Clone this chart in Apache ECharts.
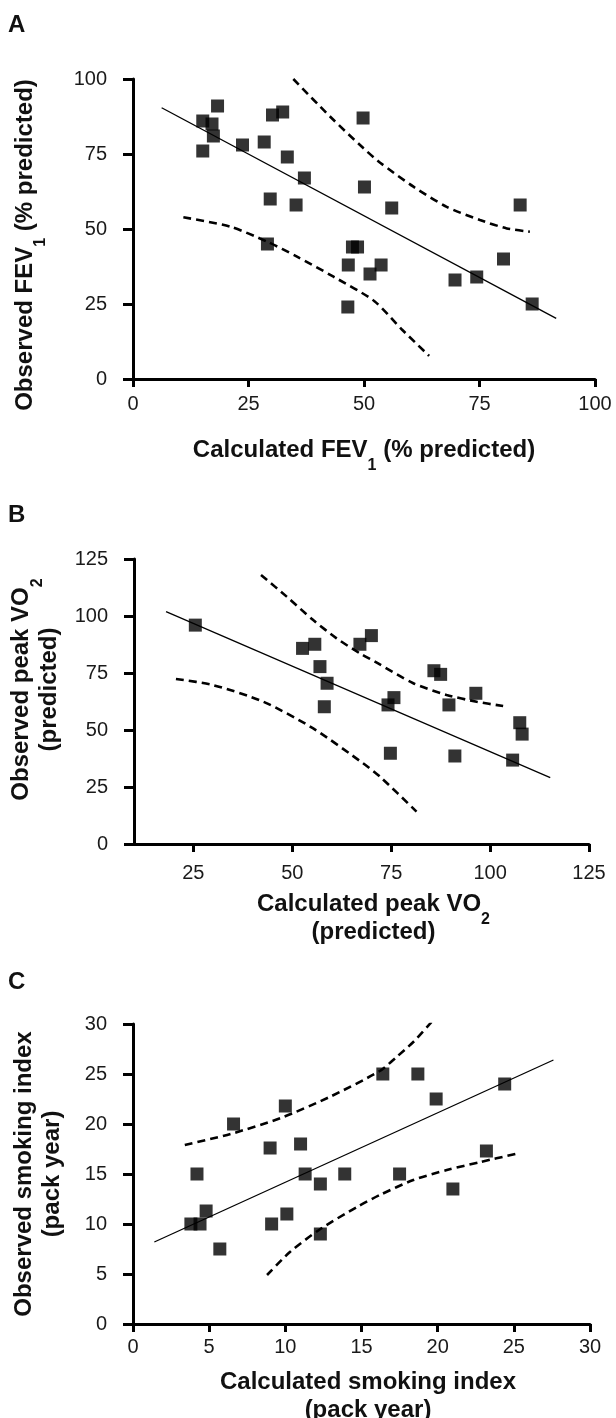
<!DOCTYPE html>
<html><head><meta charset="utf-8">
<script src="https://cdn.jsdelivr.net/npm/echarts@6/dist/echarts.min.js"></script>
<style>html,body{margin:0;padding:0;background:#fff}#c{width:616px;height:1418px}</style>
</head><body><div id="c"></div>
<script>
// ---------- Panel A: FEV1 ----------
const aCalc = [18.3,15.1,17.1,17.4,15.1,23.7,28.4,30.2,32.4,33.4,37.1,29.7,35.3,29.1,49.8,50.1,56.0,47.5,48.6,46.6,51.3,53.7,46.5,69.7,74.4,80.2,83.8,86.4];
const aObs  = [91,86,85,81,76,78,79,88,89,74,67,60,58,45,87,64,57,44,44,38,35,38,24,33,34,40,58,25];
const aFitX = [6.2, 91.6];
const aFitY = [90.4, 20.2];
const aUpX = [34.7,42.7,49.9,53.5,60.7,67.9,75.1,80.9,85.9];
const aUpY = [100,87.4,76.9,72.1,64.1,57.4,53.0,50.2,49.1];
const aLoX = [10.9,21.0,29.0,35.5,43.4,52.2,58.2,64.1];
const aLoY = [53.9,50.8,45.8,40.8,34.1,26.0,16.5,7.7];

// ---------- Panel B: peak VO2 ----------
const bCalc = [25.5,52.6,55.7,57.0,58.8,58.1,67.1,70.0,74.2,75.7,74.8,85.8,87.5,89.6,96.4,91.1,107.5,108.1,105.7];
const bObs  = [96,85.8,87.6,77.8,70.5,60.2,87.6,91.4,61,64.2,39.8,76,74.4,61,66.1,38.6,53.2,48.2,36.8];
const bFitX = [18.1, 115.2];
const bFitY = [101.9, 29.1];
const bUpX = [42.1,48.6,55.3,61.2,67.1,70.9,80.6,89.0,96.6,103.3];
const bUpY = [118,108.5,98.2,90.2,83.6,80,70.5,65.4,62.4,60.5];
const bLoX = [20.6,30.0,42.7,55.3,67.9,72.2,81.4];
const bLoY = [72.4,69.7,62.4,50.7,35.4,29.5,14.2];
const bXTicks = [25,50,75,100,125];

// ---------- Panel C: smoking index ----------
const cCalc = [10.0,6.6,9.0,11.0,4.2,11.3,12.3,13.9,4.8,3.8,4.4,9.1,10.1,5.7,12.3,16.4,18.7,19.9,24.4,17.5,23.2,21.0];
const cObs  = [21.8,20,17.6,18,15,15,14,15,11.3,10,10,10,11,7.5,9,25,25,22.5,24,15,17.3,13.5];
const cFitX = [1.4, 27.6];
const cFitY = [8.2, 26.4];
const cUpX = [3.4,6.4,9.7,12.9,16.2,17.3,18.4,19.6];
const cUpY = [17.9,19.0,20.6,22.7,25.3,26.7,28.2,30.2];
const cLoX = [8.8,10.3,12.3,14.7,16.2,18.4,20.6,22.8,25.1];
const cLoY = [4.9,7.2,9.5,11.7,12.9,14.4,15.4,16.2,17.0];

const zip = (xs, ys) => xs.map((x, i) => [x, ys[i]]);
const FF = '"Liberation Sans", Arial, sans-serif';
const titleStyle = {
  fontSize: 24, fontWeight: 'bold', color: '#111', fontFamily: FF, lineHeight: 28,
  rich: { s: { fontSize: 16, fontWeight: 'bold', color: '#111', fontFamily: FF, lineHeight: 28, padding: [16,0,-16,0] } }
};
function nameStyle(pad) { return Object.assign({}, titleStyle, { padding: pad }); }

function xAxisCfg(gi, min, max, interval, name, gap, labelMargin, pad, custom) {
  const ax = {
    type: 'value', gridIndex: gi, min: min, max: max,
    name: name, nameLocation: 'middle', nameGap: gap, nameTextStyle: nameStyle(pad),
    axisLine: { show: true, onZero: false, lineStyle: { color: '#000', width: 3 } },
    axisTick: { show: true, length: 8, lineStyle: { color: '#000', width: 3 } },
    axisLabel: { fontSize: 20, color: '#1a1a1a', fontFamily: FF, margin: labelMargin },
    splitLine: { show: false }
  };
  if (custom) {
    ax.axisTick.customValues = custom;
    ax.axisLabel.customValues = custom;
  } else {
    ax.interval = interval;
  }
  return ax;
}
function yAxisCfg(gi, min, max, interval, name, gap, pad) {
  return {
    type: 'value', gridIndex: gi, min: min, max: max, interval: interval,
    name: name, nameLocation: 'middle', nameGap: gap, nameRotate: 90, nameTextStyle: nameStyle(pad),
    axisLine: { show: true, onZero: false, lineStyle: { color: '#000', width: 3 } },
    axisTick: { show: true, length: 10, lineStyle: { color: '#000', width: 3 } },
    axisLabel: { fontSize: 20, color: '#1a1a1a', fontFamily: FF, margin: 26 },
    splitLine: { show: false }
  };
}
function panelSeries(i, pts, fit, up, lo) {
  const line = (data, type, w) => ({
    type: 'line', xAxisIndex: i, yAxisIndex: i, data: data, showSymbol: false, symbol: 'none',
    smooth: type === 'solid' ? false : 0.25, silent: true,
    lineStyle: { color: '#000', width: w, type: type }, z: 2
  });
  return [
    line(fit, 'solid', 1.3),
    line(up, [8, 5], 2.6),
    line(lo, [8, 5], 2.6),
    { type: 'scatter', xAxisIndex: i, yAxisIndex: i, data: pts, symbol: 'rect', symbolSize: 13,
      itemStyle: { color: '#000' }, silent: true, z: 3 }
  ];
}

const chart = echarts.init(document.getElementById('c'), null, { renderer: 'canvas' });
chart.setOption({
  animation: false,
  backgroundColor: '#fff',
  grid: [
    { left: 133, top: 79, width: 462, height: 300, containLabel: false, outerBoundsMode: 'none' },
    { left: 134, top: 559, width: 455, height: 285, containLabel: false, outerBoundsMode: 'none' },
    { left: 133, top: 1024, width: 457, height: 300, containLabel: false, outerBoundsMode: 'none' }
  ],
  xAxis: [
    xAxisCfg(0, 0, 100, 25, 'Calculated FEV{s|1} (% predicted)', 57, 15, [0,0,0,0]),
    xAxisCfg(1, 10, 125, null, 'Calculated peak VO{s|2}\n(predicted)', 46, 19, [0,0,0,24], bXTicks),
    xAxisCfg(2, 0, 30, 5, 'Calculated smoking index\n(pack year)', 44, 13, [0,0,0,13])
  ],
  yAxis: [
    yAxisCfg(0, 0, 100, 25, 'Observed FEV{s|1} (% predicted)', 94, [0,32,0,0]),
    yAxisCfg(1, 0, 125, 25, 'Observed peak VO{s|2}\n(predicted)', 67, [0,0,0,24]),
    yAxisCfg(2, 0, 30, 5, 'Observed smoking index\n(pack year)', 67, [0,0,0,0])
  ],
  graphic: [
    { type: 'text', left: 8, top: 13, style: { text: 'A', font: 'bold 24px ' + FF, fill: '#111' } },
    { type: 'text', left: 8, top: 503, style: { text: 'B', font: 'bold 24px ' + FF, fill: '#111' } },
    { type: 'text', left: 8, top: 970, style: { text: 'C', font: 'bold 24px ' + FF, fill: '#111' } }
  ],
  series: [].concat(
    panelSeries(0, zip(aCalc, aObs), zip(aFitX, aFitY), zip(aUpX, aUpY), zip(aLoX, aLoY)),
    panelSeries(1, zip(bCalc, bObs), zip(bFitX, bFitY), zip(bUpX, bUpY), zip(bLoX, bLoY)),
    panelSeries(2, zip(cCalc, cObs), zip(cFitX, cFitY), zip(cUpX, cUpY), zip(cLoX, cLoY))
  )
});
</script></body></html>
